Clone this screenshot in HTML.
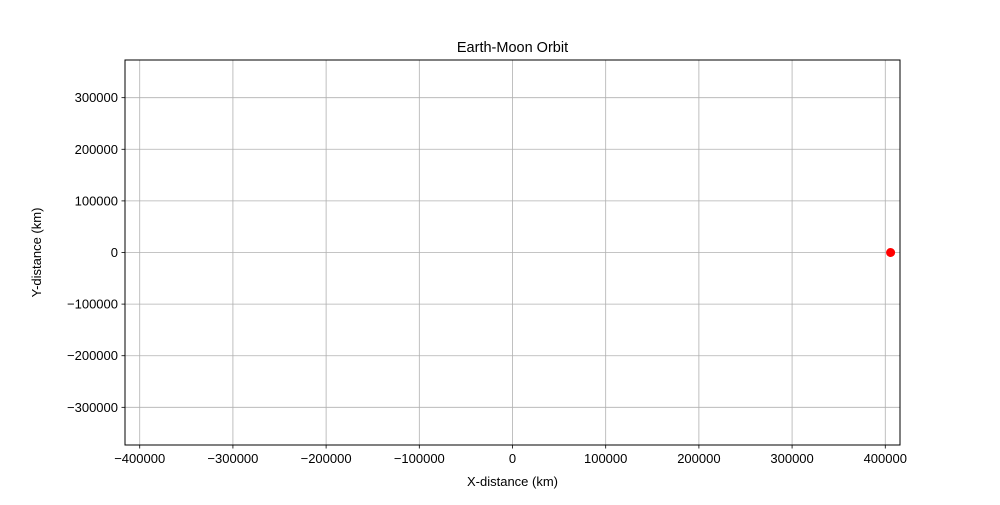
<!DOCTYPE html>
<html><head><meta charset="utf-8"><style>
body{margin:0;background:#fff;font-family:"Liberation Sans","DejaVu Sans",sans-serif}
</style></head><body>
<svg id="chart" width="1000" height="500" xmlns="http://www.w3.org/2000/svg">
<rect width="1000" height="500" fill="#fff"/>
<text x="512.5" y="52" text-anchor="middle" font-size="14.5">Earth-Moon Orbit</text>
<g id="grid"></g><g id="ticks"></g><g id="marks"></g>
<rect x="125" y="60" width="775" height="385" fill="none" stroke="#000" stroke-width="1"/>
<text x="512.5" y="486" text-anchor="middle" font-size="13">X-distance (km)</text>
<text transform="translate(41,252.5) rotate(-90)" text-anchor="middle" font-size="13">Y-distance (km)</text>
</svg>
<script>
const xTicks=[-400000,-300000,-200000,-100000,0,100000,200000,300000,400000];
const yTicks=[-300000,-200000,-100000,0,100000,200000,300000];
const moonX=[405700];
const moonY=[0];
const X0=125,X1=900,Y0=60,Y1=445,xmin=-415800,xmax=415800,ymin=-373000,ymax=373000;
const sx=v=>X0+(v-xmin)/(xmax-xmin)*(X1-X0);
const sy=v=>Y1-(v-ymin)/(ymax-ymin)*(Y1-Y0);
const NS="http://www.w3.org/2000/svg";
const grid=document.getElementById('grid'),ticks=document.getElementById('ticks'),marks=document.getElementById('marks');
function mk(t,a,p){const e=document.createElementNS(NS,t);for(const k in a)e.setAttribute(k,a[k]);p.appendChild(e);return e;}
xTicks.forEach(v=>{const x=sx(v);
const g=mk('line',{x1:x,x2:x,y1:Y0,y2:Y1,stroke:'#b0b0b0','stroke-width':0.8},grid);


const t=mk('line',{x1:x,x2:x,y1:Y1,y2:Y1+3.5,stroke:'#000','stroke-width':0.8},ticks);


const l=mk('text',{x:x,y:Y1+18,'text-anchor':'middle','font-size':13},ticks);
l.textContent=v<0?'\u2212'+(-v):String(v);

});
yTicks.forEach(v=>{const y=sy(v);
const g=mk('line',{x1:X0,x2:X1,y1:y,y2:y,stroke:'#b0b0b0','stroke-width':0.8},grid);


const t=mk('line',{x1:X0-3.5,x2:X0,y1:y,y2:y,stroke:'#000','stroke-width':0.8},ticks);


const l=mk('text',{x:X0-7,y:y+4.5,'text-anchor':'end','font-size':13},ticks);
l.textContent=v<0?'\u2212'+(-v):String(v);

});
moonX.forEach((v,i)=>{const c=mk('circle',{cx:sx(v),cy:sy(moonY[i]),r:4.5,fill:'#ff0000'},marks);

});
</script>
</body></html>
